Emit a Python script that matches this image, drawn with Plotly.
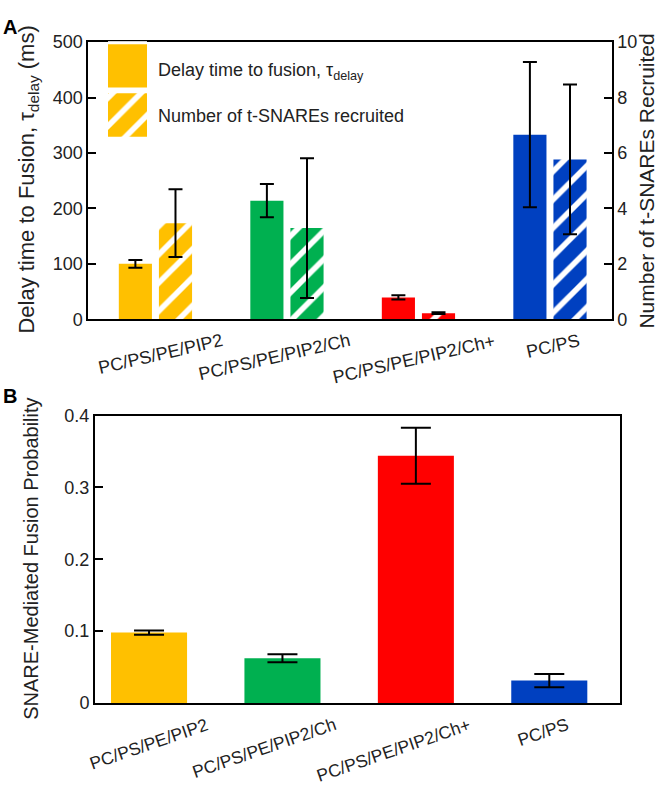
import plotly.graph_objects as go

# ---------------- data ----------------
categories = ["PC/PS/PE/PIP2", "PC/PS/PE/PIP2/Ch", "PC/PS/PE/PIP2/Ch+", "PC/PS"]
colors = ["#FFC000", "#00B050", "#FF0000", "#0040C0"]

delay_ms = [100, 214, 39.5, 333]          # left axis (ms)
delay_err = [7, 30, 3.8, 131]
tsnare_num = [3.47, 3.29, 0.22, 5.77]     # right axis (count)
tsnare_err = [1.22, 2.52, 0.03, 2.7]

fusion_prob = [0.098, 0.0623, 0.344, 0.0313]
fusion_err = [0.003, 0.0055, 0.039, 0.0093]

left_ticks_A = [0, 100, 200, 300, 400, 500]
right_ticks_A = [0, 2, 4, 6, 8, 10]
ticks_B = [0, 0.1, 0.2, 0.3, 0.4]

legend_labels = ["Delay time to fusion, τ<sub>delay</sub>", "Number of t-SNAREs recruited"]
legend_swatch = [1, 1]

# ---------------- layout helpers ----------------
W, H = 658, 793
FONT = "Liberation Sans, Arial, Helvetica, sans-serif"
TXT = "#222"


def fx(p):
    return p / W


def fy(p):
    return 1 - p / H


def hatch(col):
    return dict(shape="/", fgcolor="#FFFFFF", bgcolor=col, fgopacity=1,
                fillmode="replace", size=20, solidity=0.28)


fig = go.Figure()

# Panel A solid bars (delay time)
fig.add_trace(go.Bar(
    x=categories, y=delay_ms, xaxis="x", yaxis="y",
    width=0.252, offset=-0.278,
    marker=dict(color=colors, line=dict(width=0)),
    error_y=dict(type="data", array=delay_err, color="black", thickness=2, width=7),
    showlegend=False,
))

# Panel A hatched bars (t-SNAREs), one trace per category so each hatch keeps white stripes
for i, c in enumerate(categories):
    fig.add_trace(go.Bar(
        x=[c], y=[tsnare_num[i]], xaxis="x", yaxis="y2",
        width=0.252, offset=0.027,
        marker=dict(color=colors[i], line=dict(width=0), pattern=hatch(colors[i])),
        error_y=dict(type="data", array=[tsnare_err[i]], color="black", thickness=2, width=7),
        showlegend=False,
    ))

# Panel B bars
fig.add_trace(go.Bar(
    x=categories, y=fusion_prob, xaxis="x2", yaxis="y3",
    width=0.57,
    marker=dict(color=colors, line=dict(width=0)),
    error_y=dict(type="data", array=fusion_err, color="black", thickness=2, width=15),
    showlegend=False,
))

# Legend swatches (hidden axes)
fig.add_trace(go.Bar(
    x=[legend_swatch[0]], y=[1], orientation="h", xaxis="x3", yaxis="y4", width=0.88,
    marker=dict(color=colors[0], line=dict(width=0)), showlegend=False, hoverinfo="skip",
))
fig.add_trace(go.Bar(
    x=[legend_swatch[1]], y=[0], orientation="h", xaxis="x3", yaxis="y4", width=0.88,
    marker=dict(color=colors[0], line=dict(width=0), pattern=hatch(colors[0])),
    showlegend=False, hoverinfo="skip",
))

axis_common = dict(showline=True, linecolor="black", linewidth=2, showgrid=False, zeroline=False)
tickfont = dict(family=FONT, size=18, color=TXT)

fig.update_layout(
    width=W, height=H, autosize=False,
    margin=dict(l=0, r=0, t=0, b=0),
    paper_bgcolor="white", plot_bgcolor="white",
    barmode="overlay",
    font=dict(family=FONT, color=TXT),
    xaxis=dict(domain=[fx(88.3), fx(611.7)], anchor="y", type="category",
               range=[-0.51, 3.47], showticklabels=False, ticks="", mirror=True, **axis_common),
    yaxis=dict(domain=[fy(317.3), fy(33)], anchor="x", range=[0, 500],
               tickvals=left_ticks_A, ticks="inside", ticklen=8, tickwidth=2, tickcolor="black",
               tickfont=tickfont, **axis_common),
    yaxis2=dict(overlaying="y", side="right", anchor="x", range=[0, 10],
                tickvals=right_ticks_A, ticks="inside", ticklen=8, tickwidth=2, tickcolor="black",
                tickfont=tickfont, **axis_common),
    xaxis2=dict(domain=[fx(95), fx(620)], anchor="y3", type="category",
                range=[-0.405, 3.53], showticklabels=False, ticks="", mirror=True, **axis_common),
    yaxis3=dict(domain=[fy(711), fy(416)], anchor="x2", range=[0, 0.4],
                tickvals=ticks_B, ticks="inside", ticklen=8, tickwidth=2, tickcolor="black",
                tickfont=tickfont, mirror=True, **axis_common),
    xaxis3=dict(domain=[fx(108), fx(147)], anchor="y4", range=[0, 1], visible=False, fixedrange=True),
    yaxis4=dict(domain=[fy(133), fy(32)], anchor="x3", range=[-0.5, 1.5], visible=False, fixedrange=True),
)

ann = []
# panel letters
ann.append(dict(text="<b>A</b>", x=fx(1), y=fy(4), xref="paper", yref="paper",
                xanchor="left", yanchor="top", showarrow=False, font=dict(family=FONT, size=20, color="black")))
ann.append(dict(text="<b>B</b>", x=fx(1), y=fy(383), xref="paper", yref="paper",
                xanchor="left", yanchor="top", showarrow=False, font=dict(family=FONT, size=20, color="black")))

# axis titles
ann.append(dict(text="Delay time to Fusion, τ<sub>delay</sub> (ms)", textangle=-90,
                x=fx(28), y=fy(174), xref="paper", yref="paper", xanchor="center", yanchor="middle",
                showarrow=False, font=dict(family=FONT, size=22, color=TXT)))
ann.append(dict(text="Number of t-SNAREs Recruited", textangle=-90,
                x=fx(647), y=fy(176), xref="paper", yref="paper", xanchor="center", yanchor="middle",
                showarrow=False, font=dict(family=FONT, size=21, color=TXT)))
ann.append(dict(text="SNARE-Mediated Fusion Probability", textangle=-90,
                x=fx(31), y=fy(563), xref="paper", yref="paper", xanchor="center", yanchor="middle",
                showarrow=False, font=dict(family=FONT, size=20, color=TXT)))

# legend text
ann.append(dict(text=legend_labels[0], x=fx(156), y=fy(63), xref="paper", yref="paper",
                xanchor="left", yanchor="middle", showarrow=False, font=dict(family=FONT, size=18, color=TXT)))
ann.append(dict(text=legend_labels[1], x=fx(156), y=fy(109), xref="paper", yref="paper",
                xanchor="left", yanchor="middle", showarrow=False, font=dict(family=FONT, size=18, color=TXT)))

# category labels (rotated)
shiftA = [5, -12, -4, 3]
shiftB = [0, -18, -22, -6]
for i, c in enumerate(categories):
    ann.append(dict(text=c, x=c, xref="x", y=fy(326), yref="paper", textangle=-13,
                    xanchor="center", yanchor="top", xshift=shiftA[i], showarrow=False,
                    font=dict(family=FONT, size=18, color=TXT)))
    ann.append(dict(text=c, x=c, xref="x2", y=fy(720), yref="paper", textangle=-19,
                    xanchor="center", yanchor="top", xshift=shiftB[i], showarrow=False,
                    font=dict(family=FONT, size=17.5, color=TXT)))

fig.update_layout(annotations=ann)

fig.write_html("out.html", config={"displayModeBar": False},
               post_script="document.body.style.margin='0';document.body.style.overflow='hidden';")
